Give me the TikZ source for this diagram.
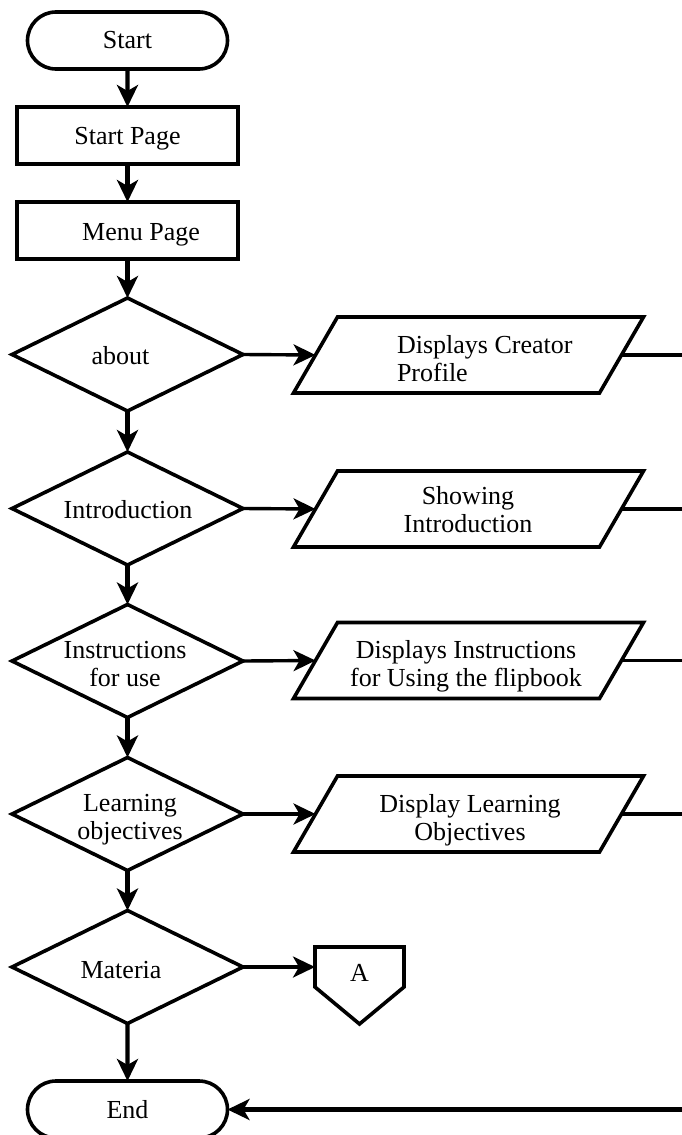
\documentclass[tikz,border=0pt]{standalone}
\usepackage{fontspec}
\setmainfont{Liberation Serif}
\usetikzlibrary{shapes.geometric,shapes.misc,arrows.meta,calc}
\begin{document}
\begin{tikzpicture}[x=1pt,y=-1pt,
  every node/.style={font=\fontsize{26}{28}\selectfont, inner sep=0pt, outer sep=0pt},
  term/.style={draw, line width=3.6pt, rounded rectangle, minimum width=200pt, minimum height=57pt},
  proc/.style={draw, line width=3.6pt, rectangle, minimum width=221pt, minimum height=57pt},
  dec/.style={draw, line width=3.6pt, diamond, minimum width=231pt, minimum height=113pt},
  iobox/.style={rectangle, minimum width=306pt, minimum height=76pt},
  shapeline/.style={line width=3.6pt, line join=miter},
  lbl/.style={align=center},
  arr/.style={-{Stealth[length=22pt,width=21pt,inset=6pt]}, line width=3.4pt},
  varr/.style={arr, line width=4.2pt},
  link/.style={line width=3.4pt},
]
\useasboundingbox (0,0) rectangle (681,1135);

% main column
\node[term] (start) at (127.5,40.5) {Start};
\node[proc] (sp) at (127.5,135.5) {};
\node[lbl] (spt) at (127.5,139) {Start Page};
\node[proc] (mp) at (127.5,230.5) {};
\node[lbl] (mpt) at (141,235) {Menu Page};
\node[dec] (d1) at (127.5,354.5) {};
\node[lbl] (d1t) at (120.5,355.5) {about};
\node[dec] (d2) at (127.5,508.5) {};
\node[lbl] (d2t) at (128,509.5) {Introduction};
\node[dec] (d3) at (127.5,661) {};
\node[lbl] (d3t) at (125,664.5) {Instructions\\for use};
\node[dec] (d4) at (127.5,814) {};
\node[lbl] (d4t) at (130,820) {Learning\\objectives};
\node[dec] (d5) at (127.5,967) {};
\node[lbl] (d5t) at (121,970) {Materia};
\node[term] (end) at (127.5,1109.5) {End};

% outputs (parallelograms drawn round invisible boxes)
\node[iobox] (p1) at (468.5,355) {};
\node[align=left, anchor=west] (p1t) at (397,358.5) {Displays Creator\\Profile};
\node[iobox] (p2) at (468.5,509) {};
\node[lbl] (p2t) at (468,510) {Showing\\Introduction};
\node[iobox] (p3) at (468.5,660.5) {};
\node[lbl] (p3t) at (466,666.5) {Displays Instructions\\for Using the flipbook};
\node[iobox] (p4) at (468.5,814) {};
\node[lbl] (p4t) at (470,820.5) {Display Learning\\Objectives};
\foreach \p in {p1,p2,p3,p4}{
  \draw[shapeline] ($(\p.north west)+(22,0)$) -- ($(\p.north east)+(22,0)$)
    -- ($(\p.south east)+(-22,0)$) -- ($(\p.south west)+(-22,0)$) -- cycle;
}

% off-page connector A
\node[minimum width=89pt, minimum height=40pt] (A) at (359.5,967) {};
\draw[shapeline] (A.north west) -- (A.north east) -- (A.south east) -- ($(A.south)+(0,37)$) -- (A.south west) -- cycle;
\node (At) at (359.5,972.5) {A};

% right edge coordinates
\coordinate (r1) at (684,355);
\coordinate (r2) at (684,509);
\coordinate (r3) at (684,660.5);
\coordinate (r4) at (684,814);
\coordinate (r5) at (684,1109.5);

% vertical flow
\draw[varr] (start) -- (sp);
\draw[varr] (sp) -- (mp);
\draw[varr] (mp) -- (d1);
\draw[varr] (d1) -- (d2);
\draw[varr] (d2) -- (d3);
\draw[varr] (d3) -- (d4);
\draw[varr] (d4) -- (d5);
\draw[varr] (d5) -- (end);

% horizontal
\draw[arr] (d1.east) -- (p1.west);
\draw[arr] (d2.east) -- (p2.west);
\draw[arr] (d3.east) -- (p3.west);
\draw[arr] (d4.east) -- (p4.west);
\draw[arr] (d5.east) -- (A.west);
\draw[link] (p1.east) -- (r1);
\draw[link] (p2.east) -- (r2);
\draw[link] (p3.east) -- (r3);
\draw[link] (p4.east) -- (r4);
\draw[varr] (r5) -- (end.east);
\end{tikzpicture}
\end{document}
